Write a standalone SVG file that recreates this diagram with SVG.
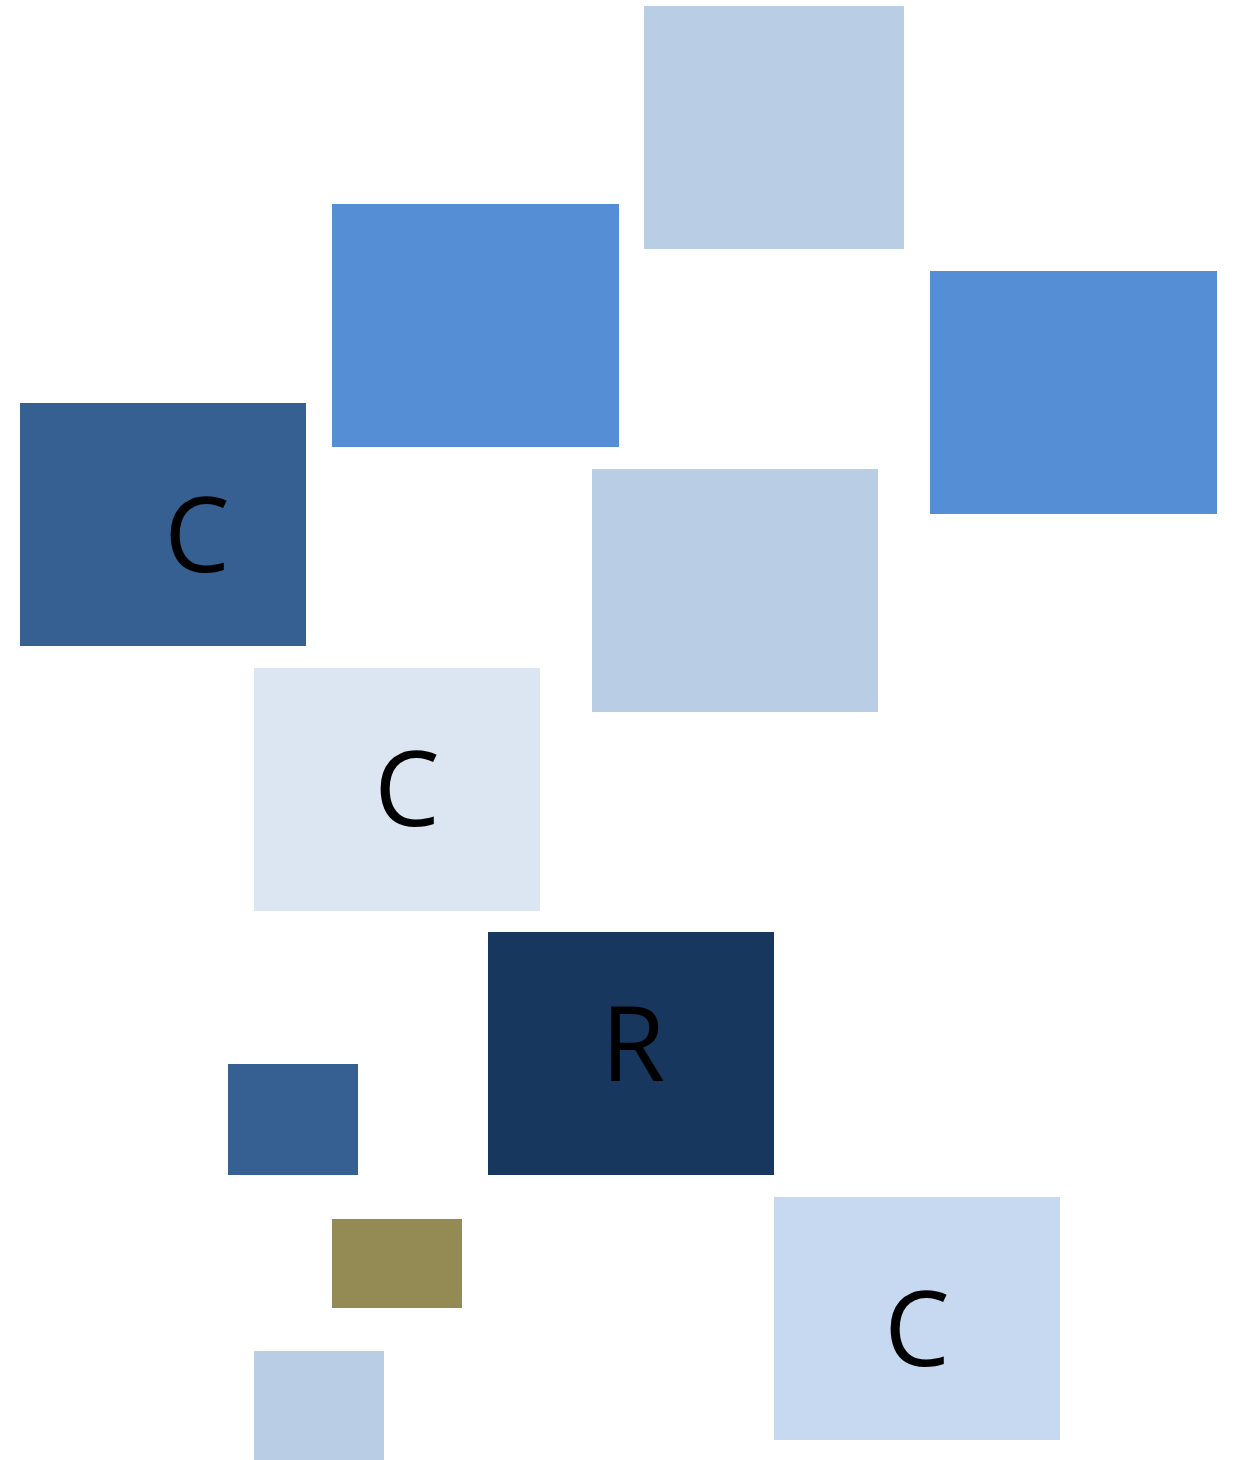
<svg xmlns="http://www.w3.org/2000/svg" width="1239" height="1460" viewBox="0 0 1239 1460">
<style>
.lbl{font-family:"Open Sans","Liberation Sans",sans-serif;font-size:104px;fill:#000;text-anchor:middle}
.lb{fill:#B9CDE5}.bl{fill:#558ED5}.dk{fill:#376092}.pl{fill:#DCE6F2}.nv{fill:#17375E}.c2{fill:#C6D9F1}.ol{fill:#948A54}
</style>
<rect width="1239" height="1460" fill="#fff"/>
<g id="connectors"/>
<g id="n1"><rect class="lb" x="644" y="6" width="260" height="243"/></g>
<g id="n2"><rect class="bl" x="332" y="204" width="287" height="243"/></g>
<g id="n3"><rect class="bl" x="930" y="271" width="287" height="243"/></g>
<g id="n4"><rect class="dk" x="20" y="403" width="286" height="243"/><text class="lbl" x="197" y="572">C</text></g>
<g id="n5"><rect class="lb" x="592" y="469" width="286" height="243"/></g>
<g id="n6"><rect class="pl" x="254" y="668" width="286" height="243"/><text class="lbl" x="407" y="826">C</text></g>
<g id="n7"><rect class="nv" x="488" y="932" width="286" height="243"/><text class="lbl" x="633" y="1081">R</text></g>
<g id="n8"><rect class="dk" x="228" y="1064" width="130" height="111"/></g>
<g id="n9"><rect class="ol" x="332" y="1219" width="130" height="89"/></g>
<g id="n10"><rect class="lb" x="254" y="1351" width="130" height="109"/></g>
<g id="n11"><rect class="c2" x="774" y="1197" width="286" height="243"/><text class="lbl" x="917" y="1366">C</text></g>
</svg>
